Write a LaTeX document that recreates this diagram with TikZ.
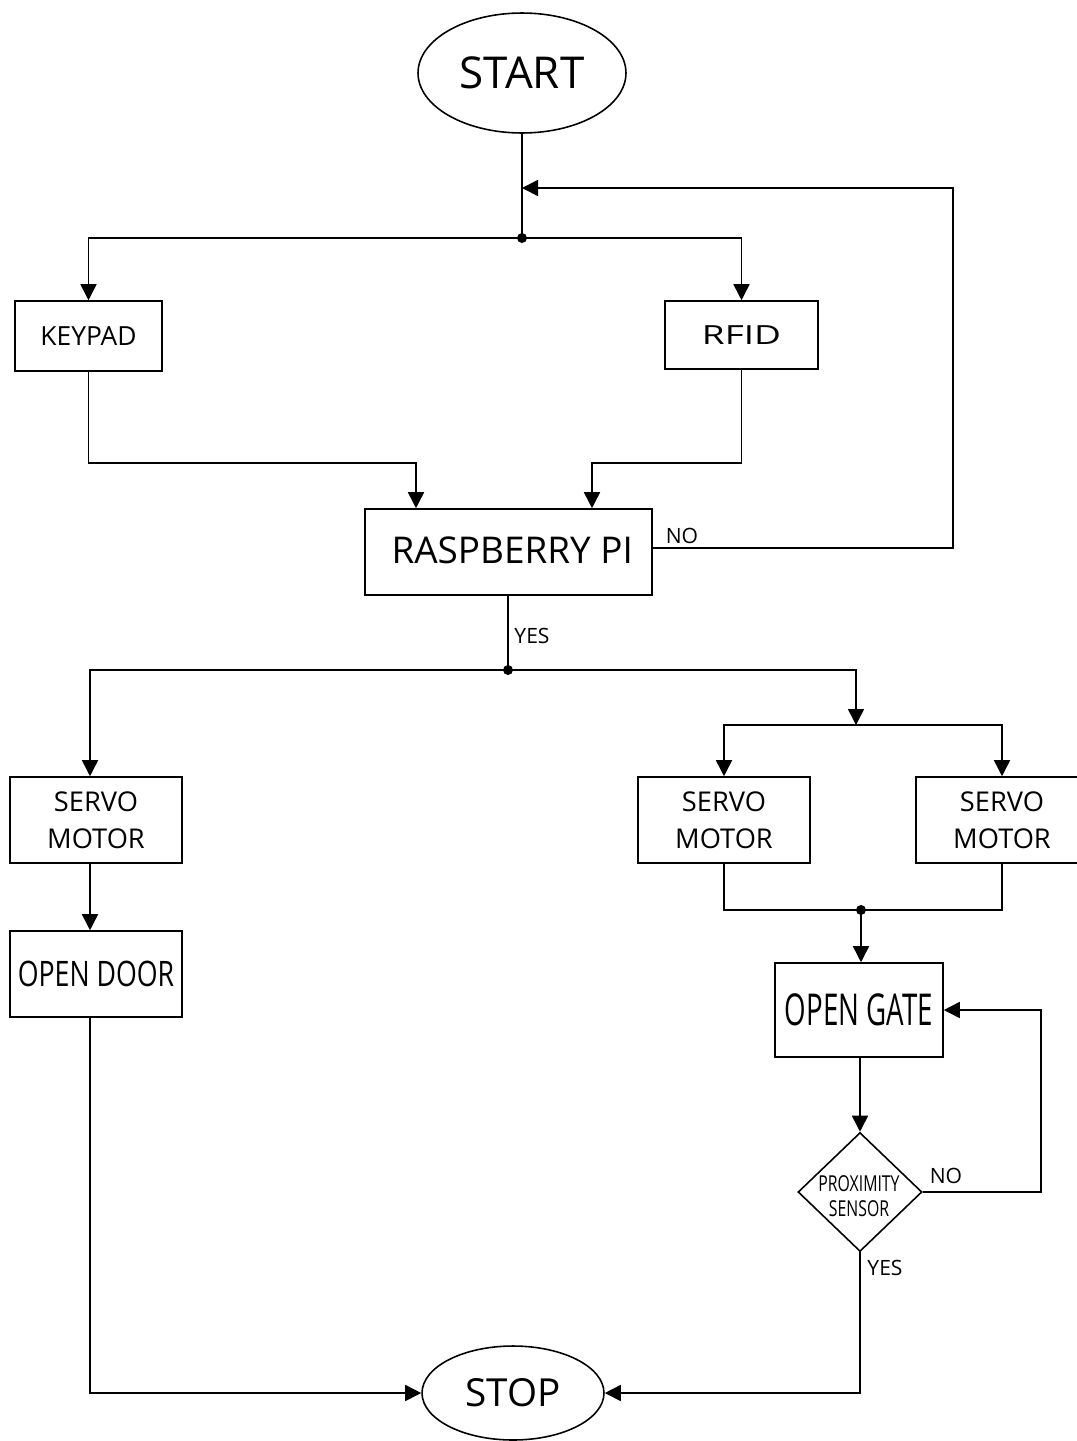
\documentclass[tikz,border=0pt]{standalone}
\usepackage{fontspec}
\setmainfont{Open Sans}
\usetikzlibrary{shapes.geometric,arrows.meta}
\newcommand{\fs}[1]{\fontsize{#1}{1.15\dimexpr#1\relax}\selectfont}
\begin{document}
\begin{tikzpicture}[x=0.02cm,y=-0.02cm,
  line width=0.9pt,
  arr/.style={-{Triangle[length=0.32cm,width=0.32cm]}},
  box/.style={draw,rectangle,inner sep=0pt,align=center},
  srv/.style={box,minimum width=3.44cm,minimum height=1.72cm,font=\fontsize{15.5pt}{21pt}\selectfont},
  oval/.style={draw,ellipse,inner sep=0pt},
  lbl/.style={inner sep=0pt,font=\fs{12pt}},
  dot/.style={fill,circle,inner sep=0pt,minimum size=0.2cm}]
\useasboundingbox (0,0) rectangle (1077,1441);

% nodes
\node[oval,minimum width=4.16cm,minimum height=2.4cm,font=\fs{25pt}] (start) at (522,73) {START};
\node[box,minimum width=2.94cm,minimum height=1.4cm,font=\fs{15pt}] (keypad) at (88.5,336) {KEYPAD};
\node[box,minimum width=3.06cm,minimum height=1.36cm,font=\fs{15pt}] (rfid) at (741.5,335) {\scalebox{1.4}[1]{RFID}};
\node[box,minimum width=5.74cm,minimum height=1.72cm,font=\fs{21pt}] (rpi) at (508.5,552) {\hspace*{0.15cm}\raisebox{0.08cm}{RASPBERRY PI}};
\node[srv] (s1) at (96,820) {SERVO\\MOTOR};
\node[srv] (s2) at (724,820) {SERVO\\MOTOR};
\node[srv] (s3) at (1002,820) {SERVO\\MOTOR};
\node[box,minimum width=3.44cm,minimum height=1.72cm,font=\fs{20pt}] (door) at (96,974) {\scalebox{0.76}[1]{OPEN DOOR}};
\node[box,minimum width=3.36cm,minimum height=1.88cm,font=\fs{25pt}] (gate) at (859,1010) {\scalebox{0.63}[1]{OPEN GATE}};
\node[draw,diamond,inner sep=0pt,minimum width=2.48cm,minimum height=2.38cm] (prox) at (860,1192) {};
\node[inner sep=0pt,align=center,font=\fs{12.5pt}] (proxtxt) at (859,1196) {\scalebox{0.72}[1]{PROXIMITY}\\\scalebox{0.72}[1]{SENSOR}};
\node[oval,minimum width=3.64cm,minimum height=1.88cm,font=\fs{22pt}] (stop) at (513,1393) {STOP};

% junctions
\coordinate (j1) at (522,238);
\coordinate (n0) at (522,188);
\coordinate (n1) at (953,188);
\coordinate (k1) at (416,463);
\coordinate (r1) at (592,463);
\coordinate (j2) at (508,670);
\coordinate (j3) at (856,725);
\coordinate (j4) at (861,910);
\coordinate (g1) at (1041,1010);
\coordinate (re) at (652,548);
\coordinate (sl) at (90,863);
\coordinate (dl) at (90,1017);

% connectors
\draw (start.south) -- (j1);
\draw[arr] (j1) -| (keypad.north);
\draw[arr] (j1) -| (rfid.north);
\draw[arr] (keypad.south) |- (k1) -- (rpi.north -| k1);
\draw[arr] (rfid.south) |- (r1) -- (rpi.north -| r1);
\draw[arr] (re) -| (n1) -- (n0);
\draw (rpi.south -| j2) -- (j2);
\draw[arr] (j2) -| (s1.north -| sl);
\draw[arr] (j2) -| (j3);
\draw[arr] (j3) -| (s2.north);
\draw[arr] (j3) -| (s3.north);
\draw (s2.south) |- (j4);
\draw (s3.south) |- (j4);
\draw[arr] (j4) -- (gate.north -| j4);
\draw[arr] (sl) -- (door.north -| sl);
\draw[arr] (dl) |- (stop.west);
\draw[arr] (gate.south -| prox.north) -- (prox.north);
\draw[arr] (prox.east) -| (g1) -- (gate.east);
\draw[arr] (prox.south) |- (stop.east);

\node[dot] (d1) at (j1) {};
\node[dot] (d2) at (j2) {};
\node[dot] (d4) at (j4) {};

% labels
\node[lbl] (lno1) at (682,536) {NO};
\node[lbl] (lyes1) at (532,636) {YES};
\node[lbl] (lno2) at (946,1176) {NO};
\node[lbl] (lyes2) at (885,1268) {YES};
\end{tikzpicture}
\end{document}
